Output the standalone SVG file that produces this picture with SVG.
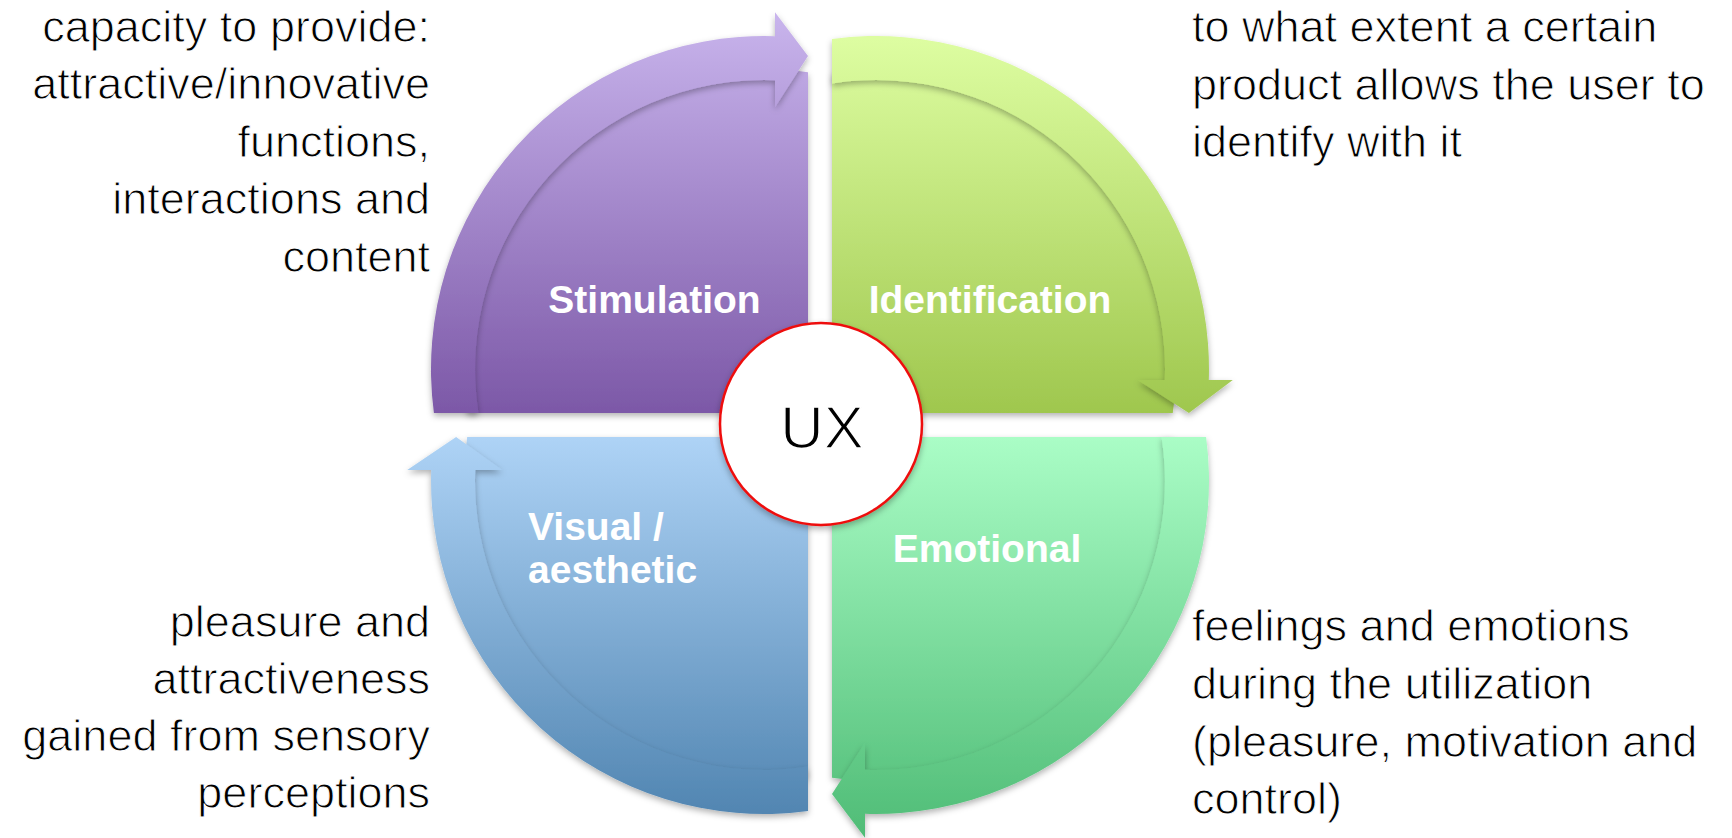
<svg xmlns="http://www.w3.org/2000/svg" width="1732" height="838" viewBox="0 0 1732 838">
  <style>
    .desc { font-family: "Liberation Sans", Arial, Helvetica, sans-serif; font-size: 45px; fill: #000000; stroke: #ffffff; stroke-width: 1px; }
    .lbl { font-family: "Liberation Sans", Arial, Helvetica, sans-serif; font-size: 39px; font-weight: bold; fill: #ffffff; }
    .ux { font-family: "Liberation Sans", Arial, Helvetica, sans-serif; font-size: 60px; fill: #000000; stroke: #ffffff; stroke-width: 1.4px; }
    .sh { filter: url(#shadow); }
  </style>
  <defs>
    <filter id="shadow" x="-10%" y="-10%" width="120%" height="120%">
      <feDropShadow dx="0" dy="3" stdDeviation="3" flood-color="#000000" flood-opacity="0.3"/>
    </filter>
    <linearGradient id="gPurple" gradientUnits="userSpaceOnUse" x1="0" y1="12" x2="0" y2="413">
      <stop offset="0" stop-color="#c9b5ed"/>
      <stop offset="1" stop-color="#7c58a7"/>
    </linearGradient>
    <linearGradient id="gGreen" gradientUnits="userSpaceOnUse" x1="0" y1="39" x2="0" y2="413">
      <stop offset="0" stop-color="#ddfda1"/>
      <stop offset="1" stop-color="#9fc74e"/>
    </linearGradient>
    <linearGradient id="gEmerald" gradientUnits="userSpaceOnUse" x1="0" y1="437" x2="0" y2="838">
      <stop offset="0" stop-color="#aafdc6"/>
      <stop offset="1" stop-color="#4fbc76"/>
    </linearGradient>
    <linearGradient id="gBlue" gradientUnits="userSpaceOnUse" x1="0" y1="437" x2="0" y2="811">
      <stop offset="0" stop-color="#aed3f6"/>
      <stop offset="1" stop-color="#5286b2"/>
    </linearGradient>
  </defs>

  <g id="stimulation">
    <path class="sh" fill="url(#gPurple)" d="M 808 413 L 467.2 413 A 300 300 0 0 1 808 72.2 Z"/>
    <text class="lbl" x="654.5" y="313" text-anchor="middle">Stimulation</text>
  </g>
  <g id="identification">
    <path class="sh" fill="url(#gGreen)" d="M 832 413 L 832 72.2 A 300 300 0 0 1 1172.8 413 Z"/>
    <text class="lbl" x="990" y="313" text-anchor="middle">Identification</text>
  </g>
  <g id="emotional">
    <path class="sh" fill="url(#gEmerald)" d="M 832 437 L 1172.8 437 A 300 300 0 0 1 832 777.8 Z"/>
    <text class="lbl" x="987" y="562" text-anchor="middle">Emotional</text>
  </g>
  <g id="visual-aesthetic">
    <path class="sh" fill="url(#gBlue)" d="M 808 437 L 808 777.8 A 300 300 0 0 1 467.2 437 Z"/>
    <text class="lbl" x="528" y="540">Visual /</text>
    <text class="lbl" x="528" y="583">aesthetic</text>
  </g>

  <g id="connectors">
    <path class="sh" fill="url(#gPurple)" d="M 433.9 413 A 333 333 0 0 1 775 36.2 L 775 12.2 L 808 56.1 L 775 107.2 L 775 80.2 A 289 289 0 0 0 478.4 413 Z"/>
    <path class="sh" fill="url(#gGreen)" d="M 832 38.9 A 333 333 0 0 1 1208.8 380 L 1232.8 380 L 1188.9 413 L 1137.8 380 L 1164.8 380 A 289 289 0 0 0 832 83.4 Z"/>
    <path class="sh" fill="url(#gEmerald)" d="M 1206.1 437 A 333 333 0 0 1 865 813.8 L 865 837.8 L 832 793.9 L 865 742.8 L 865 769.8 A 289 289 0 0 0 1161.6 437 Z"/>
    <path class="sh" fill="url(#gBlue)" d="M 808 811.1 A 333 333 0 0 1 431.2 470 L 407.2 470 L 456.1 437 L 502.2 470 L 475.2 470 A 289 289 0 0 0 808 766.6 Z"/>
  </g>

  <g id="ux">
    <circle class="sh" cx="821" cy="424" r="101" fill="#ffffff" stroke="#ee1111" stroke-width="2.5"/>
    <text class="ux" x="822" y="448" text-anchor="middle">UX</text>
  </g>

  <g id="desc-stimulation">
    <text class="desc" text-anchor="end" x="430" y="42">capacity to provide:</text>
    <text class="desc" text-anchor="end" x="430" y="99">attractive/innovative</text>
    <text class="desc" text-anchor="end" x="430" y="157">functions,</text>
    <text class="desc" text-anchor="end" x="430" y="214">interactions and</text>
    <text class="desc" text-anchor="end" x="430" y="272">content</text>
  </g>
  <g id="desc-identification">
    <text class="desc" x="1192" y="42">to what extent a certain</text>
    <text class="desc" x="1192" y="100">product allows the user to</text>
    <text class="desc" x="1192" y="157">identify with it</text>
  </g>
  <g id="desc-visual">
    <text class="desc" text-anchor="end" x="430" y="637">pleasure and</text>
    <text class="desc" text-anchor="end" x="430" y="694">attractiveness</text>
    <text class="desc" text-anchor="end" x="430" y="751">gained from sensory</text>
    <text class="desc" text-anchor="end" x="430" y="808">perceptions</text>
  </g>
  <g id="desc-emotional">
    <text class="desc" x="1192" y="641">feelings and emotions</text>
    <text class="desc" x="1192" y="699">during the utilization</text>
    <text class="desc" x="1192" y="757">(pleasure, motivation and</text>
    <text class="desc" x="1192" y="814">control)</text>
  </g>
</svg>
